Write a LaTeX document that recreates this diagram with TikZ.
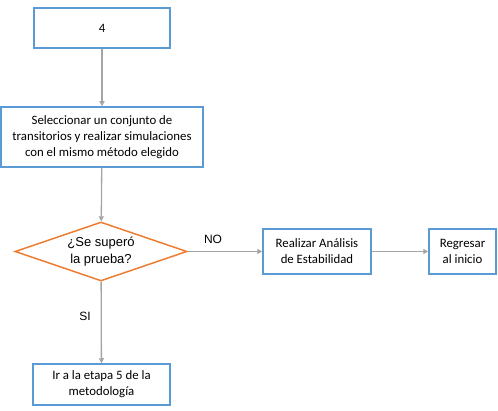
\documentclass[tikz,border=0pt]{standalone}
\usepackage{fontspec}
\setmainfont{Carlito}
\newfontfamily\arialf{Liberation Sans}
\usetikzlibrary{shapes.geometric,arrows.meta}
\definecolor{boxblue}{RGB}{91,155,213}
\definecolor{dorange}{RGB}{237,125,49}
\definecolor{agray}{RGB}{165,165,165}
\begin{document}
\begin{tikzpicture}[x=1pt,y=-1pt,
  blbox/.style={draw=boxblue,line width=1.5pt,fill=white,align=center,font=\fontsize{12.8}{16}\selectfont,inner sep=0pt},
  dia/.style={draw=dorange,line width=1.5pt,diamond,inner sep=0pt},
  conn/.style={draw=agray,line width=1.3pt,-{Triangle[length=5pt,width=5pt]}},
  lbl/.style={font=\arialf\fontsize{12}{14}\selectfont}]
\useasboundingbox (0,0) rectangle (498,411);
\node[blbox,minimum width=136pt,minimum height=40pt] (n4) at (102,28) {4};
\node[blbox,minimum width=202pt,minimum height=60pt] (sel) at (102,137) {Seleccionar un conjunto de\\transitorios y realizar simulaciones\\con el mismo método elegido};
\node[dia,minimum width=172pt,minimum height=59pt] (d) at (101,251.5) {};
\node[font=\arialf\fontsize{13}{16.5}\selectfont,align=center] (dt) at (101,251.5) {¿Se superó\\la prueba?};
\node[blbox,minimum width=137pt,minimum height=41pt] (ir) at (101.5,384.5) {Ir a la etapa 5 de la\\metodología};
\node[blbox,minimum width=108pt,minimum height=45pt] (ra) at (317,251.5) {Realizar Análisis\\de Estabilidad};
\node[blbox,minimum width=67pt,minimum height=45pt] (rg) at (462.5,251.5) {Regresar\\al inicio};
\draw[conn] (n4) -- (sel);
\draw[conn] (sel) -- (d);
\draw[conn] (d) -- (ra);
\draw[conn] (ra) -- (rg);
\draw[conn] (d) -- (ir);
\node[lbl] (no) at (213,239) {NO};
\node[lbl] (si) at (85,316) {SI};
\end{tikzpicture}
\end{document}
